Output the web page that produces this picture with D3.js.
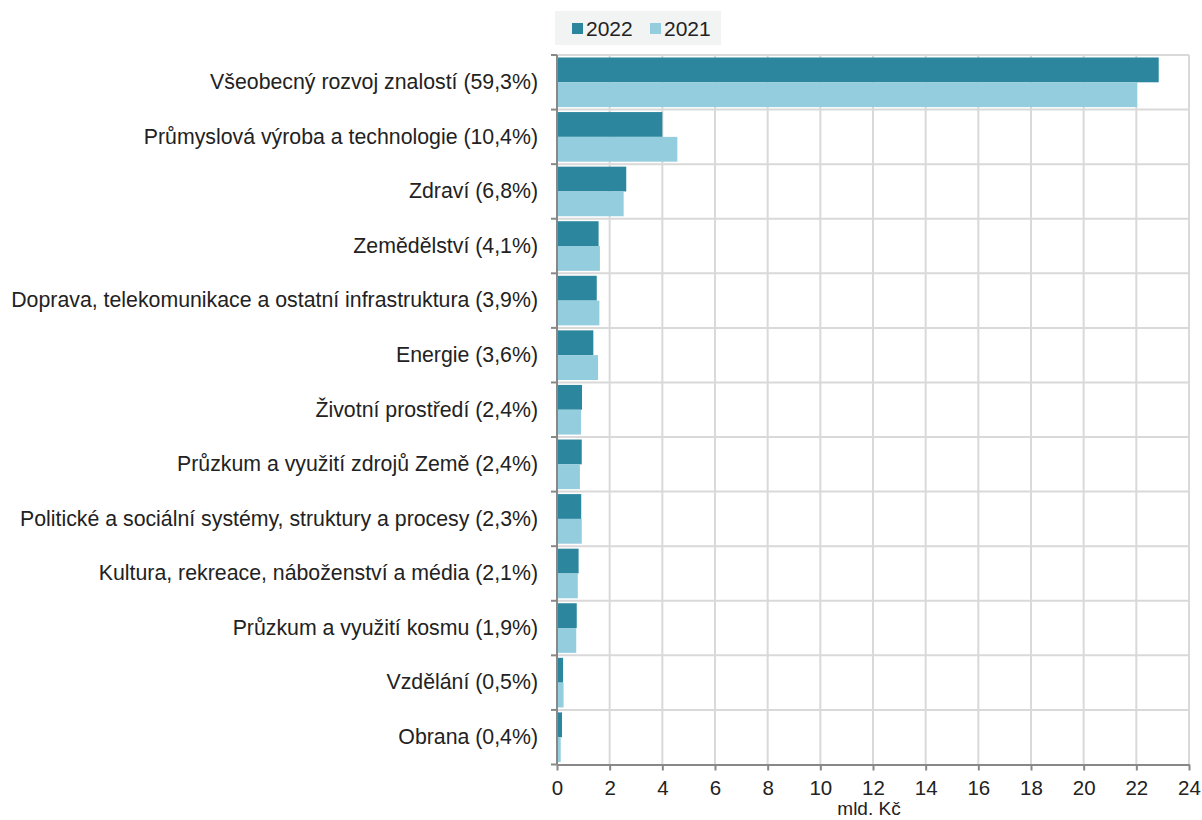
<!DOCTYPE html>
<html>
<head>
<meta charset="utf-8">
<script src="https://cdn.jsdelivr.net/npm/d3@7"></script>
<style>
  body { margin: 0; background: #fff; }
  svg text { font-family: "Liberation Sans", Arial, sans-serif; }
</style>
</head>
<body>
<script>
// kategorie a hodnoty (mld. Kč)
var kategorie = [
  "Všeobecný rozvoj znalostí (59,3%)",
  "Průmyslová výroba a technologie (10,4%)",
  "Zdraví (6,8%)",
  "Zemědělství (4,1%)",
  "Doprava, telekomunikace a ostatní infrastruktura (3,9%)",
  "Energie (3,6%)",
  "Životní prostředí (2,4%)",
  "Průzkum a využití zdrojů Země (2,4%)",
  "Politické a sociální systémy, struktury a procesy (2,3%)",
  "Kultura, rekreace, náboženství a média (2,1%)",
  "Průzkum a využití kosmu (1,9%)",
  "Vzdělání (0,5%)",
  "Obrana (0,4%)"
]
var hodnoty2022 = [22.85, 4.0, 2.63, 1.58, 1.51, 1.38, 0.95, 0.94, 0.92, 0.82, 0.75, 0.23, 0.19]
var hodnoty2021 = [22.03, 4.57, 2.53, 1.63, 1.61, 1.56, 0.91, 0.87, 0.94, 0.79, 0.73, 0.25, 0.14]
var roky = ["2022", "2021"]
var ticksX = [0, 2, 4, 6, 8, 10, 12, 14, 16, 18, 20, 22, 24]

var width = 1202
var height = 820
var margin = { top: 55, bottom: 55.5, left: 557, right: 13 }

var barvy = { "2022": "#2c879e", "2021": "#93cdde" }

var datos = kategorie.map(function (k, i) {
  return { kat: k, "2022": hodnoty2022[i], "2021": hodnoty2021[i] }
})

var svg = d3.select("body").append("svg")
  .attr("width", width)
  .attr("height", height)

var escalaX = d3.scaleLinear()
  .domain([0, 24])
  .range([margin.left, width - margin.right])

var escalaY = d3.scaleBand()
  .domain(kategorie)
  .range([margin.top, height - margin.bottom])

var escalaSub = d3.scaleBand()
  .domain(roky)
  .range([0, escalaY.bandwidth()])
  .paddingOuter(0.1)
  .paddingInner(0)

// mřížka svislá
svg.append("g")
  .selectAll("line")
  .data(ticksX.slice(1))
  .enter().append("line")
  .attr("x1", d => escalaX(d)).attr("x2", d => escalaX(d))
  .attr("y1", margin.top).attr("y2", height - margin.bottom)
  .attr("stroke", "#d9d9d9").attr("stroke-width", 2)

// mřížka vodorovná (hranice kategorií)
var hranice = kategorie.map(k => escalaY(k))
svg.append("g")
  .selectAll("line")
  .data(hranice)
  .enter().append("line")
  .attr("x1", margin.left).attr("x2", escalaX(24))
  .attr("y1", d => d).attr("y2", d => d)
  .attr("stroke", "#d9d9d9").attr("stroke-width", 2)

// sloupce
var skupiny = svg.append("g")
  .selectAll("g")
  .data(datos)
  .enter().append("g")
  .attr("transform", d => "translate(0," + escalaY(d.kat) + ")")

skupiny.selectAll("rect")
  .data(d => roky.map(r => ({ rok: r, v: d[r] })))
  .enter().append("rect")
  .attr("x", escalaX(0))
  .attr("y", d => escalaSub(d.rok))
  .attr("width", d => escalaX(d.v) - escalaX(0))
  .attr("height", escalaSub.bandwidth())
  .attr("fill", d => barvy[d.rok])

// osa Y
var ejeY = d3.axisLeft(escalaY).tickSize(0).tickPadding(19)
var gY = svg.append("g")
  .attr("transform", "translate(" + margin.left + ",0)")
  .call(ejeY)
gY.select(".domain").remove()
gY.selectAll("text").attr("font-size", 21.3).attr("fill", "#222")
// značky na hranicích kategorií
svg.append("g")
  .selectAll("line")
  .data(hranice.concat([height - margin.bottom]))
  .enter().append("line")
  .attr("x1", margin.left - 6).attr("x2", margin.left)
  .attr("y1", d => d).attr("y2", d => d)
  .attr("stroke", "#888").attr("stroke-width", 2)
svg.append("line")
  .attr("x1", margin.left).attr("x2", margin.left)
  .attr("y1", margin.top).attr("y2", height - margin.bottom)
  .attr("stroke", "#888").attr("stroke-width", 2)

// osa X
var ejeX = d3.axisBottom(escalaX).tickValues(ticksX).tickSize(6).tickPadding(10).tickSizeOuter(0)
var gX = svg.append("g")
  .attr("transform", "translate(0," + (height - margin.bottom) + ")")
  .call(ejeX)
gX.select(".domain").attr("stroke", "#888").attr("stroke-width", 2)
gX.selectAll(".tick line").attr("stroke", "#888").attr("stroke-width", 2)
gX.selectAll("text").attr("font-size", 20.5).attr("fill", "#222")

svg.append("text")
  .attr("x", (escalaX(0) + escalaX(24)) / 2 - 4)
  .attr("y", 815)
  .attr("text-anchor", "middle")
  .attr("font-size", 19)
  .attr("fill", "#222")
  .text("mld. Kč")

// legenda
svg.append("rect")
  .attr("x", 555).attr("y", 11).attr("width", 166).attr("height", 34)
  .attr("fill", "#f2f3f3")
var legPos = [572, 650]
roky.forEach(function (r, i) {
  svg.append("rect")
    .attr("x", legPos[i]).attr("y", 23).attr("width", 11).attr("height", 11)
    .attr("fill", barvy[r])
  svg.append("text")
    .attr("x", legPos[i] + 14).attr("y", 35.5)
    .attr("font-size", 21)
    .attr("fill", "#222")
    .text(r)
})
</script>
</body>
</html>
